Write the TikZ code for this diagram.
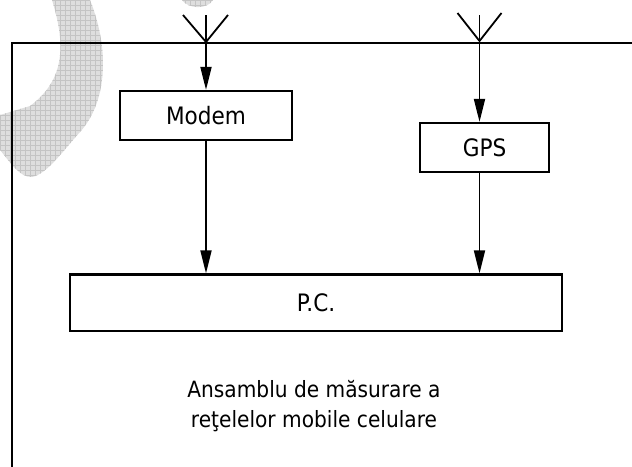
\documentclass[tikz,border=0pt]{standalone}
\usepackage{fontspec}
\setmainfont{DejaVu Sans}[FakeStretch=0.9]
\usetikzlibrary{arrows.meta}
\definecolor{wmfill}{RGB}{222,222,222}
\definecolor{wmgrid}{RGB}{196,196,196}
\tikzset{
  box/.style={draw, line width=1.1pt, inner sep=0pt, font=\fontsize{12}{14}\selectfont},
  wire/.style={line width=0.9pt},
  arr/.style={wire, -{Triangle[length=11.5pt,width=5.5pt]}},
  label/.style={align=center, inner sep=0pt, font=\fontsize{11.2}{15}\selectfont}
}
\begin{document}
\begin{tikzpicture}[x=0.5pt,y=-0.5pt]
\useasboundingbox (0,0) rectangle (632,466);
% watermark
\begin{scope}
\clip (52,0) .. controls (66,45) and (65,80) .. (30,106) -- (0,115) -- (0,150)
  .. controls (10,162) and (20,178) .. (32,177) .. controls (47,174) and (62,152) .. (80,132)
  .. controls (107,102) and (110,50) .. (90,0) -- cycle;
\fill[wmfill] (0,0) rectangle (120,180);
\draw[wmgrid, line width=0.3pt, step=2.5pt] (0,0) grid (120,180);
\end{scope}
\begin{scope}
\clip (182,0) .. controls (188,9) and (207,10) .. (213,0) -- cycle;
\fill[wmfill] (180,0) rectangle (215,10);
\draw[wmgrid, line width=0.3pt, step=2.5pt] (180,0) grid (215,10);
\end{scope}
% frame
\draw[wire] (12,470) -- (12,43) -- (640,43);
% nodes
\node[box, minimum width=86pt, minimum height=24.5pt] (modem) at (206,115.5) {Modem};
\node[box, minimum width=64.5pt, minimum height=24.5pt] (gps) at (484.5,147.5) {GPS};
\node[box, minimum width=246pt, minimum height=28.25pt] (pc) at (316,302.75) {P.C.};
\node[label] (txt) at (314,406) {Ansamblu de măsurare a\\reţelelor mobile celulare};
% antennas
\coordinate (a1top) at (206,15);
\coordinate (a1base) at (206,42);
\coordinate (a2top) at (479.5,15);
\coordinate (a2base) at (479.5,41);
\draw[wire] (a1base) -- ++(-23,-27);
\draw[wire] (a1base) -- ++(22,-27);
\draw[wire] (a2base) -- ++(-22,-28);
\draw[wire] (a2base) -- ++(22,-28);
% connectors
\draw[arr] (a1top) -- (modem.north);
\draw[arr] (a2top) -- (a2top |- gps.north);
\draw[arr] (modem.south) -- (modem.south |- pc.north);
\draw[arr] (a2top |- gps.south) -- (a2top |- pc.north);
\end{tikzpicture}
\end{document}
